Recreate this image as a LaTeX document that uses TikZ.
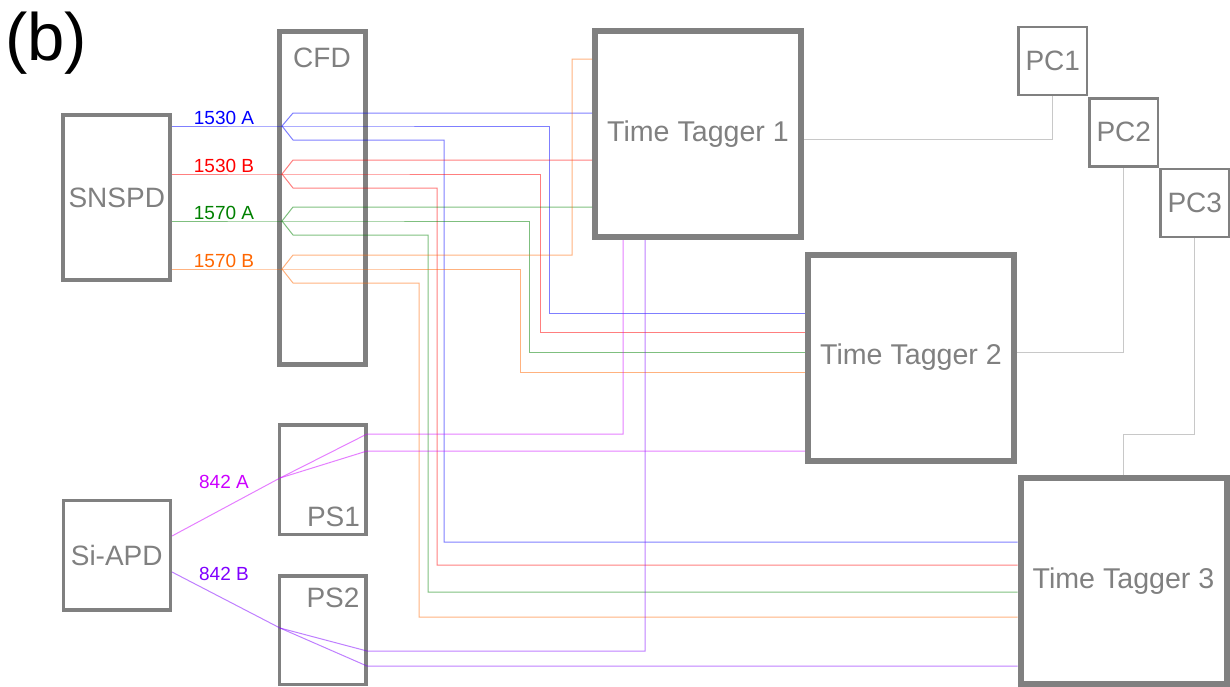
\documentclass[tikz,border=0pt]{standalone}
\usepackage{fontspec}
\setmainfont{Liberation Sans}

\definecolor{boxgray}{RGB}{128,128,128}
\definecolor{linkgray}{RGB}{200,200,200}
\definecolor{cblue}{RGB}{0,0,255}
\definecolor{cred}{RGB}{255,0,0}
\definecolor{cgreen}{RGB}{0,128,0}
\definecolor{corange}{RGB}{255,102,0}
\definecolor{cmagenta}{RGB}{204,0,255}
\definecolor{cviolet}{RGB}{127,0,255}

\tikzset{
  devbox/.style={draw=boxgray, text=boxgray, inner sep=0pt, font=\fontsize{28}{28}\selectfont},
  ttbox/.style={devbox, line width=6pt, minimum width=206pt, minimum height=206pt, font=\fontsize{28.6}{28.6}\selectfont},
  pcbox/.style={devbox, line width=2.5pt, minimum width=68.5pt, minimum height=68pt},
  boxtext/.style={text=boxgray, inner sep=0pt, anchor=base, font=\fontsize{28}{28}\selectfont},
  chlabel/.style={inner sep=0pt, anchor=base, font=\fontsize{19}{19}\selectfont},
  wire/.style={line width=1pt, draw opacity=0.5},
  link/.style={draw=linkgray, line width=1pt}
}

\begin{document}
\begin{tikzpicture}[x=1pt,y=-1pt]
    \useasboundingbox (0,0) rectangle (1230,686);
    % boxes
    \node[ttbox] (tt1) at (698,134) {Time Tagger 1};
    \node[ttbox] (tt2) at (911,357.5) {Time Tagger 2};
    \node[ttbox] (tt3) at (1123.5,581) {Time Tagger 3};
    \node[devbox, line width=5pt, minimum width=85.5pt, minimum height=333pt] (cfd) at (322.25,197.5) {};
    \node[boxtext] (cfdtext) at (322,67) {CFD};
    \node[devbox, line width=4pt, minimum width=107pt, minimum height=165pt] (snspd) at (116.75,197.5) {SNSPD};
    \node[devbox, line width=3.5pt, minimum width=107pt, minimum height=109.5pt] (siapd) at (116.75,555.25) {Si-APD};
    \node[devbox, line width=3.5pt, minimum width=86.5pt, minimum height=109.5pt] (ps1) at (322.75,479.75) {};
    \node[boxtext] (ps1text) at (333.5,526) {PS1};
    \node[devbox, line width=3.5pt, minimum width=86.5pt, minimum height=108.5pt] (ps2) at (322.75,630.25) {};
    \node[boxtext] (ps2text) at (333,607) {PS2};
    \node[pcbox] (pc1) at (1052.75,61) {PC1};
    \node[pcbox] (pc2) at (1123.75,132.25) {PC2};
    \node[pcbox] (pc3) at (1194.75,203) {PC3};
    \node[inner sep=0pt, anchor=base, font=\fontsize{67}{67}\selectfont] (panel) at (46,60) {(b)};
    % channel labels
    \node[chlabel, text=cblue] (l1530a) at (224,124) {1530 A};
    \node[chlabel, text=cred] (l1530b) at (224,172) {1530 B};
    \node[chlabel, text=cgreen] (l1570a) at (224,219) {1570 A};
    \node[chlabel, text=corange] (l1570b) at (224,267) {1570 B};
    \node[chlabel, text=cmagenta] (l842a) at (224,488) {842 A};
    \node[chlabel, text=cviolet] (l842b) at (224,580) {842 B};
    % split points
    \coordinate (fA) at (282,126);
    \coordinate (fB) at (282,174);
    \coordinate (fC) at (282,221);
    \coordinate (fD) at (282,269);
    \coordinate (fE) at (280,478);
    \coordinate (fF) at (280,628);
    % 1530 A
    \draw[wire, draw=cblue] (snspd.east |- fA) -- (fA) -- (549,126) |- (tt2.west |- 0,313);
    \draw[wire, draw=cblue] (fA) -- (293,113) -- (tt1.west |- 0,113);
    \draw[wire, draw=cblue] (fA) -- (293,140) -- (444,140) |- (tt3.west |- 0,542);
    % 1530 B
    \draw[wire, draw=cred] (snspd.east |- fB) -- (fB) -- (540,174) |- (tt2.west |- 0,332);
    \draw[wire, draw=cred] (fB) -- (293,160) -- (tt1.west |- 0,160);
    \draw[wire, draw=cred] (fB) -- (293,188) -- (437,188) |- (tt3.west |- 0,565);
    % 1570 A
    \draw[wire, draw=cgreen] (snspd.east |- fC) -- (fC) -- (529,221) |- (tt2.west |- 0,352);
    \draw[wire, draw=cgreen] (fC) -- (293,207) -- (tt1.west |- 0,207);
    \draw[wire, draw=cgreen] (fC) -- (293,235) -- (428,235) |- (tt3.west |- 0,592);
    % 1570 B
    \draw[wire, draw=corange] (snspd.east |- fD) -- (fD) -- (520,269) |- (tt2.west |- 0,372);
    \draw[wire, draw=corange] (fD) -- (293,255) -- (572,255) |- (tt1.west |- 0,59);
    \draw[wire, draw=corange] (fD) -- (293,283) -- (419,283) |- (tt3.west |- 0,617);
    % 842 A
    \draw[wire, draw=cmagenta] (siapd.east |- 0,536) -- (fE) -- (367,434) -- (623,434) -- (623,434 |- tt1.south);
    \draw[wire, draw=cmagenta] (fE) -- (367,451) -- (tt2.west |- 0,451);
    % 842 B
    \draw[wire, draw=cviolet] (siapd.east |- 0,572) -- (fF) -- (367,651) -- (645,651) -- (645,651 |- tt1.south);
    \draw[wire, draw=cviolet] (fF) -- (367,666) -- (tt3.west |- 0,666);
    % to the PCs
    \draw[link] (tt1.east |- 0,139) -| (pc1.south);
    \draw[link] (tt2.east |- 0,352) -| (pc2.south);
    \draw[link] (tt3.north) |- (pc3.south |- 0,434) -- (pc3.south);
\end{tikzpicture}
\end{document}
